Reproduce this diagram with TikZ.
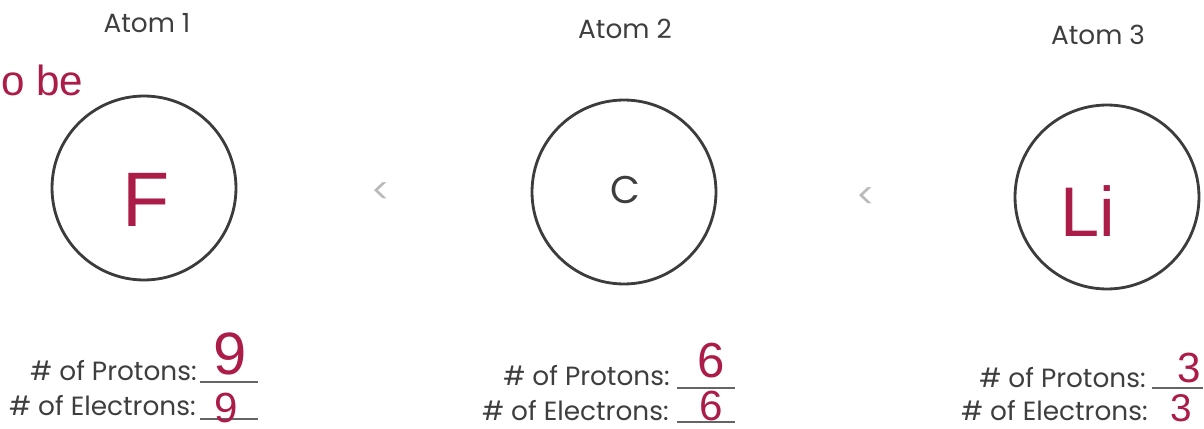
\documentclass[tikz,border=0pt]{standalone}
\usepackage{fontspec}
\setmainfont{Poppins}
\newfontfamily\handfont{Liberation Sans}
\usepackage{xcolor}
\definecolor{inkred}{RGB}{172,28,72}
\definecolor{printgray}{RGB}{62,62,62}
\definecolor{ringgray}{RGB}{60,60,60}

\begin{document}
\begin{tikzpicture}[
    x=0.02cm, y=-0.02cm,
    atomtitle/.style={text=printgray, inner sep=0pt, font=\fontsize{15}{18}\selectfont},
    atomring/.style={draw=ringgray, line width=1.6pt, circle, minimum size=3.68cm, inner sep=0pt},
    countlabel/.style={anchor=base east, text=printgray, inner sep=0pt, font=\fontsize{15}{18}\selectfont},
    answerline/.style={draw=printgray!80, line width=0.6pt},
    handink/.style={text=inkred, inner sep=0pt, font=\handfont\fontsize{#1}{#1}\selectfont},
    lessthan/.style={text=gray!55, inner sep=0pt, font=\fontsize{20}{20}\selectfont}
]

\useasboundingbox (0,0) rectangle (1204,429);

% titles
\node[atomtitle] (tone) at (147,23) {Atom 1};
\node[atomtitle] (ttwo) at (625,29) {Atom 2};
\node[atomtitle] (tthree) at (1098,35) {Atom 3};

% the three atoms
\node[atomring] (aone) at (144,188) {};
\node[atomring] (atwo) at (624,192) {};
\node[atomring] (athree) at (1107,197) {};

\node[handink=44] (fone) at (146,200) {F};
\node[atomtitle, font=\fontsize{22}{22}\selectfont] (ctwo) at (625,190) {C};
\node[handink=40] (lithree) at (1088,211) {Li};

% comparison signs
\node[lessthan] (ltone) at (381,193) {<};
\node[lessthan] (lttwo) at (866,198) {<};

% scribble in the corner
\node[handink=24, anchor=base west] (note) at (1,96) {o be};

% counts, atom 1
\node[countlabel] (pone) at (197,380) {\# of Protons:};
\node[countlabel] (eone) at (196,415) {\# of Electrons:};
\draw[answerline] (200,382) -- (258,382);
\draw[answerline] (200,419) -- (258,419);
\node[handink=34] (npone) at (230,354) {9};
\node[handink=24] (neone) at (226,408) {9};

% counts, atom 2
\node[countlabel] (ptwo) at (670,385) {\# of Protons:};
\node[countlabel] (etwo) at (669,420) {\# of Electrons:};
\draw[answerline] (677,388) -- (735,388);
\draw[answerline] (677,422) -- (735,422);
\node[handink=28] (nptwo) at (711,361) {6};
\node[handink=24] (netwo) at (711,406) {6};

% counts, atom 3
\node[countlabel] (pthree) at (1146,387) {\# of Protons:};
\node[countlabel] (ethree) at (1148,420) {\# of Electrons:};
\draw[answerline] (1152,388) -- (1203,388);
\node[handink=24] (npthree) at (1189,368) {3};
\node[handink=22] (nethree) at (1181,408) {3};

\end{tikzpicture}
\end{document}
